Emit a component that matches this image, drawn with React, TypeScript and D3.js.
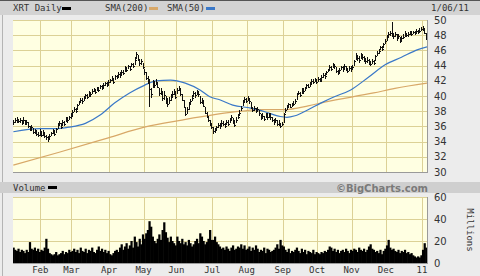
import React from "react";
import * as d3 from "d3";

// ---- categories ----
const monthLabels = ["Feb", "Mar", "Apr", "May", "Jun", "Jul", "Aug", "Sep", "Oct", "Nov", "Dec", "11"];
// trading days per month, Jan 2010 (from Jan 6) .. Jan 2011 (to Jan 6)
const monthDays = [17, 19, 23, 21, 20, 22, 21, 22, 21, 21, 21, 22, 4];
const priceTicks = [30, 32, 34, 36, 38, 40, 42, 44, 46, 48, 50];
const volTicks = [0, 20, 40, 60];

// ---- daily closes ----
const closes = [
  // Jan
  36.6, 36.8, 36.9, 36.7, 36.8, 36.5, 36.9, 36.4, 36.6, 36.0, 35.6, 35.9, 35.2, 35.4, 35.0, 34.9, 35.3,
  // Feb
  34.9, 35.2, 34.7, 34.6, 34.3, 34.8, 35.1, 35.4, 35.0, 35.6, 36.2, 36.4, 35.9, 36.6, 36.3, 37.1, 36.8, 37.2, 37.4,
  // Mar
  37.9, 38.3, 38.0, 38.8, 39.2, 39.5, 39.3, 39.8, 40.1, 39.9, 40.4, 40.2, 40.6, 40.9, 40.5, 41.0, 40.8, 41.3, 41.1, 41.4, 41.7, 41.5, 41.9,
  // Apr
  42.1, 42.4, 41.9, 42.6, 42.5, 42.9, 42.7, 43.2, 43.0, 43.7, 43.4, 43.9, 43.6, 44.2, 44.0, 44.8, 45.5, 44.9, 44.3, 44.6, 43.8,
  // May
  43.2, 42.4, 42.0, 40.9, 40.2, 41.8, 41.5, 41.9, 41.2, 40.4, 40.6, 39.8, 40.1, 39.3, 38.9, 39.5, 39.9, 40.3, 40.6, 39.9,
  // Jun
  40.8, 41.0, 40.2, 39.5, 38.6, 37.6, 38.3, 38.9, 39.3, 39.8, 40.4, 40.1, 40.5, 40.2, 39.2, 39.5, 38.7, 37.8, 37.4, 36.9, 36.3, 35.9,
  // Jul
  35.4, 35.5, 35.9, 36.2, 36.0, 36.5, 36.3, 36.1, 36.6, 36.3, 36.8, 37.2, 36.6, 36.2, 36.9, 37.3, 37.8, 38.4, 39.2, 39.6, 39.4,
  // Aug
  39.6, 39.3, 38.5, 38.2, 38.4, 38.0, 38.3, 37.7, 37.1, 37.4, 37.0, 37.6, 37.2, 37.5, 37.3, 36.9, 36.6, 36.8, 36.3, 36.5, 36.1, 36.3,
  // Sep
  37.6, 38.2, 38.5, 38.9, 38.6, 38.8, 39.0, 39.4, 40.2, 40.4, 40.1, 40.8, 40.6, 41.0, 41.4, 41.2, 41.6, 42.0, 41.8, 42.2, 41.9,
  // Oct
  42.2, 42.0, 42.5, 42.8, 42.6, 43.1, 43.4, 43.8, 43.6, 44.1, 43.9, 43.3, 43.0, 43.4, 43.8, 43.5, 43.9, 43.6, 43.3, 43.7, 43.5,
  // Nov
  43.8, 44.6, 45.2, 45.0, 44.8, 45.3, 45.1, 44.9, 44.6, 44.8, 44.5, 44.2, 44.6, 44.4, 45.2, 45.6, 45.9, 46.4, 46.2, 46.8, 47.2,
  // Dec
  47.8, 48.1, 48.3, 48.2, 47.9, 48.1, 47.6, 47.9, 47.3, 47.6, 47.8, 48.2, 48.0, 48.1, 48.3, 48.2, 48.4, 48.3, 48.5, 48.4, 48.6, 48.8,
  // Jan 11
  49.0, 48.3, 47.8, 47.3,
];

const highs = [
  36.9, 37.1, 37.2, 37.0, 37.1, 36.9, 37.2, 36.9, 36.9, 36.6, 36.1, 36.2, 35.8, 35.7, 35.5, 35.3, 35.6,
  35.4, 35.5, 35.3, 34.9, 34.8, 35.0, 35.3, 35.6, 35.5, 35.8, 36.4, 36.7, 36.4, 36.8, 36.7, 37.3, 37.2, 37.4, 37.7,
  38.1, 38.5, 38.4, 39.0, 39.4, 39.8, 39.7, 40.0, 40.3, 40.3, 40.6, 40.5, 40.9, 41.1, 40.9, 41.2, 41.2, 41.5, 41.5, 41.7, 41.9, 41.9, 42.1,
  42.3, 42.6, 42.4, 42.8, 42.8, 43.1, 43.1, 43.4, 43.4, 43.9, 43.8, 44.1, 44.0, 44.4, 44.4, 45.1, 45.8, 45.4, 44.9, 44.9, 44.4,
  43.6, 43.1, 42.6, 42.2, 41.0, 42.1, 42.0, 42.2, 41.8, 41.0, 41.1, 40.5, 40.6, 40.0, 39.7, 39.9, 40.2, 40.7, 40.9, 40.6,
  41.0, 41.3, 41.0, 40.2, 39.5, 38.5, 38.6, 39.2, 39.6, 40.1, 40.6, 40.5, 40.8, 40.6, 40.0, 39.8, 39.3, 38.5, 37.9, 37.4, 36.9, 36.5,
  35.9, 35.8, 36.1, 36.4, 36.4, 36.8, 36.7, 36.5, 36.9, 36.8, 37.1, 37.5, 37.1, 36.8, 37.2, 37.6, 38.1, 38.7, 39.5, 39.9, 39.8,
  40.0, 39.7, 39.2, 38.6, 38.7, 38.4, 38.6, 38.2, 37.6, 37.7, 37.4, 37.8, 37.7, 37.8, 37.7, 37.3, 37.0, 37.1, 36.8, 36.8, 36.5, 36.6,
  37.8, 38.4, 38.8, 39.1, 39.0, 39.1, 39.3, 39.6, 40.4, 40.7, 40.5, 41.0, 41.0, 41.2, 41.6, 41.6, 41.8, 42.2, 42.2, 42.4, 42.3,
  42.5, 42.4, 42.7, 43.0, 43.0, 43.3, 43.6, 44.1, 44.0, 44.3, 44.2, 43.8, 43.4, 43.7, 44.0, 43.9, 44.2, 44.0, 43.7, 43.9, 43.9,
  44.1, 44.8, 45.6, 45.4, 45.2, 45.6, 45.5, 45.2, 45.0, 45.1, 44.9, 44.6, 44.9, 44.8, 45.4, 45.9, 46.2, 46.6, 46.6, 47.0, 47.5,
  48.0, 48.4, 48.6, 49.8, 48.3, 48.4, 48.1, 48.2, 47.8, 47.9, 48.1, 48.5, 48.3, 48.4, 48.6, 48.5, 48.6, 48.6, 48.8, 48.7, 48.9, 49.1,
  49.2, 48.9, 48.3, 47.8,
];

const lows = [
  36.2, 36.4, 36.5, 36.4, 36.4, 36.2, 36.4, 36.2, 36.2, 35.8, 35.4, 35.4, 35.0, 35.0, 34.7, 34.6, 34.8,
  34.6, 34.8, 34.5, 34.2, 34.0, 34.4, 34.7, 35.0, 34.8, 35.1, 35.7, 36.0, 35.7, 36.1, 36.0, 36.6, 36.5, 36.8, 37.0,
  37.4, 37.9, 37.8, 38.1, 38.8, 39.1, 39.0, 39.3, 39.7, 39.6, 39.9, 39.9, 40.2, 40.5, 40.3, 40.6, 40.5, 40.9, 40.8, 41.0, 41.3, 41.2, 41.4,
  41.7, 42.0, 41.6, 42.1, 42.2, 42.5, 42.4, 42.8, 42.7, 43.2, 43.1, 43.5, 43.3, 43.8, 43.7, 44.1, 44.9, 44.6, 44.0, 44.1, 43.5,
  42.8, 42.1, 41.6, 38.6, 39.8, 41.0, 41.1, 41.4, 41.0, 40.0, 40.1, 39.4, 39.5, 38.9, 38.6, 39.0, 39.4, 39.9, 40.1, 39.6,
  40.2, 40.6, 40.0, 39.3, 38.4, 37.4, 37.6, 38.2, 38.9, 39.3, 39.9, 39.8, 40.1, 39.9, 39.0, 39.0, 38.5, 37.6, 37.1, 36.6, 36.1, 35.6,
  35.0, 35.1, 35.4, 35.8, 35.7, 36.1, 36.0, 35.8, 36.2, 36.0, 36.4, 36.8, 36.3, 35.9, 36.4, 37.0, 37.4, 38.0, 38.7, 39.2, 39.1,
  39.3, 39.0, 38.3, 37.9, 38.0, 37.7, 37.9, 37.4, 36.8, 37.0, 36.7, 37.1, 36.9, 37.1, 36.9, 36.6, 36.2, 36.4, 36.0, 36.1, 35.8, 36.0,
  36.5, 37.7, 38.2, 38.5, 38.4, 38.5, 38.7, 39.0, 39.5, 40.1, 39.9, 40.3, 40.3, 40.6, 41.0, 41.0, 41.2, 41.6, 41.6, 41.8, 41.6,
  41.9, 41.8, 42.0, 42.4, 42.3, 42.7, 43.1, 43.3, 43.3, 43.7, 43.6, 43.0, 42.7, 43.0, 43.4, 43.2, 43.5, 43.3, 43.0, 43.3, 43.2,
  43.4, 44.0, 44.8, 44.6, 44.4, 44.9, 44.8, 44.5, 44.2, 44.4, 44.1, 43.9, 44.2, 44.1, 44.6, 45.2, 45.5, 46.0, 45.9, 46.3, 46.8,
  47.3, 47.8, 47.9, 47.8, 47.5, 47.7, 47.3, 47.5, 47.0, 47.3, 47.5, 47.8, 47.7, 47.8, 48.0, 47.9, 48.1, 48.0, 48.2, 48.1, 48.3, 48.5,
  48.6, 48.1, 47.4, 47.0,
];

// ---- daily volume (millions) ----
const volumes = [
  14, 12, 11, 13, 10, 12, 11, 9, 12, 10, 19, 13, 12, 14, 11, 13, 10,
  12, 11, 14, 22, 13, 9, 8, 7, 8, 10, 7, 8, 9, 11, 8, 10, 9, 12, 10,
  11, 13, 10, 12, 9, 14, 11, 10, 13, 9, 12, 11, 14, 10, 9, 12, 15, 11, 13, 10, 12, 9, 11,
  8, 7, 9, 11, 12, 10, 14, 17, 12, 15, 18, 13, 16, 20, 14, 24, 19, 15, 22, 17, 26,
  22, 27, 30, 38, 33, 24, 20, 18, 22, 26, 21, 30, 37, 28, 23, 19, 24, 20, 18, 16,
  24, 20, 18, 22, 17, 19, 16, 21, 18, 15, 17, 20, 22, 18, 27, 24, 20, 17, 19, 22, 30, 21,
  21, 24, 19, 17, 15, 13, 14, 12, 15, 13, 11, 14, 16, 12, 13, 15, 14, 17, 13, 16, 12,
  13, 15, 11, 14, 12, 16, 13, 10, 12, 11, 14, 9, 13, 12, 10, 11, 12, 14, 17, 13, 21, 16,
  15, 12, 10, 13, 9, 11, 10, 12, 14, 11, 9, 13, 10, 12, 8, 11, 10, 9, 12, 8, 10,
  9, 8, 10, 9, 11, 10, 12, 15, 14, 11, 13, 10, 12, 9, 11, 12, 10, 13, 11, 9, 12,
  11, 13, 12, 10, 14, 12, 11, 13, 10, 12, 15, 17, 13, 12, 10, 11, 9, 12, 8, 11, 13,
  16, 21, 14, 12, 13, 11, 10, 12, 9, 11, 10, 12, 9, 10, 8, 9, 7, 6, 5, 6, 5, 7,
  12, 18, 14, 13,
];

// ---- moving averages, sampled [trading-day index, value] ----
const sma50 = [
  [0, 35.3], [16, 35.7], [25, 35.7], [34, 35.9], [44, 36.4], [53, 37.5], [62, 39.1], [71, 40.4],
  [80, 41.4], [87, 42.0], [96, 42.1], [105, 41.7], [114, 40.8], [120, 39.9], [126, 39.5], [134, 38.8],
  [145, 38.4], [154, 37.9], [163, 37.3], [167, 37.2], [172, 37.4], [180, 38.2], [188, 39.1], [196, 39.9],
  [206, 40.8], [217, 42.5], [227, 44.1], [237, 45.1], [247, 46.1], [253, 46.5],
];
const sma200 = [
  [0, 30.9], [28, 32.6], [58, 34.5], [80, 35.9], [102, 36.8], [139, 38.0], [151, 38.2], [165, 38.2],
  [180, 38.7], [190, 39.2], [220, 40.4], [233, 41.0], [253, 41.7],
];

const W = 480;
const H = 276;
const L = 13;
const R = 427;
const PT = 20;
const PB = 172;
const VT = 197;
const VB = 263;

export default function App() {
  const n = closes.length;
  const x = d3.scaleLinear().domain([-0.5, n - 0.5]).range([12.5, 428.5]);
  const y = d3.scaleLinear().domain([30, 50]).range([PB, PT]);
  const yv = d3.scaleLinear().domain([0, 60]).range([VB, VT]);
  const step = x(1) - x(0);

  const starts: number[] = [];
  let acc = 0;
  monthDays.forEach((d, i) => {
    acc += d;
    if (i < monthDays.length - 1) starts.push(acc);
  });

  const smaLine = d3
    .line<number[]>()
    .x((d) => x(d[0]))
    .y((d) => y(d[1]))
    .curve(d3.curveMonotoneX);

  const gridC = "#dcd196";
  const bg = "#ffffe2";
  const mono = "'DejaVu Sans Mono', monospace";
  const sans = "'DejaVu Sans', sans-serif";

  return (
    <svg
      width={W}
      height={H}
      style={{ position: "absolute", left: 0, top: 0, background: "#ececec" }}
      shapeRendering="crispEdges"
    >
      <defs>
        <clipPath id="pc">
          <rect x={L} y={PT} width={R - L} height={PB - PT} />
        </clipPath>
        <clipPath id="vc">
          <rect x={L} y={VT} width={R - L} height={VB - VT} />
        </clipPath>
      </defs>
      <rect x={0} y={0} width={W} height={H} fill="#ececec" />
      <rect x={0} y={0} width={W} height={1} fill="#555" />
      <line x1={2.5} x2={2.5} y1={15} y2={H} stroke="#b4b4b4" />
      {/* header bar */}
      <rect x={0} y={1} width={W} height={14} fill="#d3d3d3" />
      <text x={13} y={11} fontFamily={mono} fontSize={9} fill="#333">XRT Daily</text>
      <rect x={62} y={7} width={9} height={3} fill="#000" />
      <text x={105} y={11} fontFamily={mono} fontSize={9} fill="#333">SMA(200)</text>
      <rect x={149} y={7} width={9} height={3} fill="#d8a868" />
      <text x={167} y={11} fontFamily={mono} fontSize={9} fill="#333">SMA(50)</text>
      <rect x={206} y={7} width={9} height={3} fill="#3a78c8" />
      <text x={469} y={11} fontFamily={mono} fontSize={9} fill="#333" textAnchor="end">1/06/11</text>

      {/* price panel */}
      <rect x={L} y={PT} width={R - L} height={PB - PT} fill={bg} />
      {priceTicks.map((t) => (
        <line key={"pg" + t} x1={L} x2={R} y1={Math.round(y(t)) + 0.5} y2={Math.round(y(t)) + 0.5} stroke={gridC} />
      ))}
      {starts.map((s) => (
        <line key={"pv" + s} x1={Math.round(x(s - 0.5)) + 0.5} x2={Math.round(x(s - 0.5)) + 0.5} y1={PT} y2={PB} stroke={gridC} />
      ))}
      <g clipPath="url(#pc)">
        <path d={smaLine(sma200) || ""} fill="none" stroke="#d8a868" strokeWidth={1.2} shapeRendering="auto" />
        <path d={smaLine(sma50) || ""} fill="none" stroke="#3a78c8" strokeWidth={1.2} shapeRendering="auto" />
        {closes.map((c, i) => {
          const cx = Math.round(x(i)) + 0.5;
          return (
            <g key={"b" + i}>
              <line x1={cx} x2={cx} y1={y(highs[i])} y2={y(lows[i])} stroke="#111" strokeWidth={1} />
              <line x1={cx} x2={cx + 1.2} y1={Math.round(y(c)) + 0.5} y2={Math.round(y(c)) + 0.5} stroke="#111" />
            </g>
          );
        })}
      </g>
      <line x1={R + 0.5} x2={R + 0.5} y1={PT} y2={PB + 1} stroke="#9a9a9a" />
      <line x1={L} x2={R + 1} y1={PB + 0.5} y2={PB + 0.5} stroke="#9a9a9a" />
      {priceTicks.map((t) => (
        <text key={"pt" + t} x={434} y={y(t) + 3.5} fontFamily={sans} fontSize={10} fill="#333">{t}</text>
      ))}

      {/* middle band */}
      <rect x={0} y={182} width={W} height={11} fill="#cfcfcf" />
      <text x={13} y={191} fontFamily={mono} fontSize={9} fill="#333">Volume</text>
      <rect x={48} y={186} width={9} height={3} fill="#000" />
      <text x={428} y={191.5} fontFamily={sans} fontSize={10} fontWeight="bold" fill="#7a7a7a" textAnchor="end">©BigCharts.com</text>

      {/* volume panel */}
      <rect x={L} y={VT} width={R - L} height={VB - VT} fill={bg} />
      {volTicks.map((t) => (
        <line key={"vg" + t} x1={L} x2={R} y1={Math.round(yv(t)) + 0.5} y2={Math.round(yv(t)) + 0.5} stroke={gridC} />
      ))}
      {starts.map((s) => (
        <line key={"vv" + s} x1={Math.round(x(s - 0.5)) + 0.5} x2={Math.round(x(s - 0.5)) + 0.5} y1={VT} y2={VB} stroke={gridC} />
      ))}
      <g clipPath="url(#vc)">
        {volumes.map((v, i) => (
          <rect key={"v" + i} x={x(i - 0.5)} y={yv(v)} width={step + 0.6} height={VB - yv(v)} fill="#000" shapeRendering="auto" />
        ))}
      </g>
      <line x1={R + 0.5} x2={R + 0.5} y1={VT} y2={VB + 1} stroke="#9a9a9a" />
      <line x1={L} x2={R + 1} y1={VB + 0.5} y2={VB + 0.5} stroke="#9a9a9a" />
      {volTicks.map((t) => (
        <text key={"vt" + t} x={434} y={yv(t) + 3.5} fontFamily={sans} fontSize={10} fill="#333">{t}</text>
      ))}
      <text
        transform="translate(467,230) rotate(90)"
        fontFamily={mono}
        fontSize={9}
        fill="#333"
        textAnchor="middle"
      >
        Millions
      </text>
      {monthLabels.map((m, i) => (
        <text key={"m" + m} x={x(starts[i] - 0.5)} y={273} fontFamily={mono} fontSize={9} fill="#333" textAnchor="middle">
          {m}
        </text>
      ))}
    </svg>
  );
}
